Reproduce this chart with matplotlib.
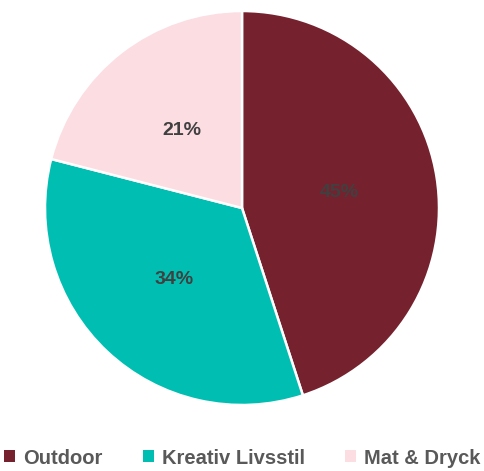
import matplotlib
matplotlib.use("Agg")
import matplotlib.pyplot as plt
from matplotlib.patches import Patch

categories = ["Outdoor", "Kreativ Livsstil", "Mat & Dryck"]
values = [45, 34, 21]
colors = ["#76212E", "#00BFB2", "#FBDDE2"]

W, H = 485, 471
fig = plt.figure(figsize=(W/100, H/100), dpi=100)
cx, cy, r = 242, 263, 197
ax = fig.add_axes([(cx - r)/W, (cy - r)/H, 2*r/W, 2*r/H])
wedges, texts, autotexts = ax.pie(
    values, colors=colors, startangle=90, counterclock=False,
    autopct=lambda p: f"{p:.0f}%", pctdistance=0.5,
    wedgeprops=dict(edgecolor="white", linewidth=1.8),
    textprops=dict(color="#404040", fontsize=14, fontweight="bold", family="Liberation Sans"),
)
ax.set_aspect("equal")
ax.set_xlim(-1, 1)
ax.set_ylim(-1, 1)

handles = [Patch(facecolor=c, edgecolor="none") for c in colors]
fig.legend(handles, categories, loc="center", bbox_to_anchor=(0.5, 13/H),
           ncol=3, frameon=False, handlelength=0.55, handleheight=0.55,
           handletextpad=0.4, columnspacing=2.0,
           prop=dict(family="Liberation Sans", size=14.5, weight="bold"),
           labelcolor="#595959")

fig.savefig("out.png", dpi=100)
